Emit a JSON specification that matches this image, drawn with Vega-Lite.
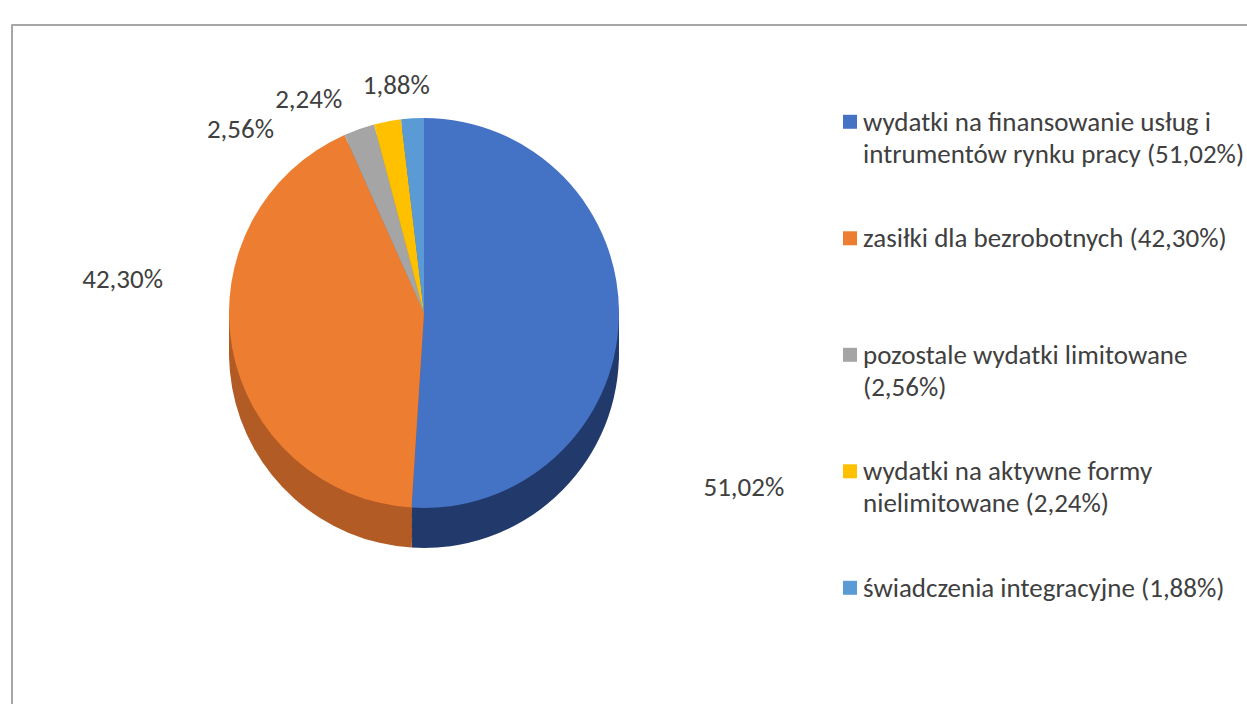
{
  "$schema": "https://vega.github.io/schema/vega-lite/v6.json",
  "padding": {"left": 10, "top": -5, "right": 0, "bottom": 0},
  "background": "white",
  "config": {"view": {"stroke": null}, "concat": {"spacing": 0}},
  "datasets": {
    "d": [
      {"k": 1, "cat": "wydatki na finansowanie usług i intrumentów rynku pracy", "value": 51.02, "pct": "51,02%", "legend": "wydatki na finansowanie usług i\nintrumentów rynku pracy (51,02%)"},
      {"k": 2, "cat": "zasiłki dla bezrobotnych", "value": 42.30, "pct": "42,30%", "legend": "zasiłki dla bezrobotnych (42,30%)"},
      {"k": 3, "cat": "pozostale wydatki limitowane", "value": 2.56, "pct": "2,56%", "legend": "pozostale wydatki limitowane\n(2,56%)"},
      {"k": 4, "cat": "wydatki na aktywne formy nielimitowane", "value": 2.24, "pct": "2,24%", "legend": "wydatki na aktywne formy\nnielimitowane (2,24%)"},
      {"k": 5, "cat": "świadczenia integracyjne", "value": 1.88, "pct": "1,88%", "legend": "świadczenia integracyjne (1,88%)"}
    ]
  },
  "spacing": 0,
  "bounds": "flush",
  "vconcat": [
    {
      "width": 1237, "height": 1,
      "view": {"stroke": "#A6A6A6", "strokeWidth": 1},
      "data": {"values": []},
      "mark": "text",
      "encoding": {}
    },
    {
      "spacing": 0,
      "bounds": "flush",
      "hconcat": [
        {
          "width": 1, "height": 680,
          "view": {"stroke": "#A6A6A6", "strokeWidth": 1},
          "data": {"values": []},
          "mark": "text",
          "encoding": {}
        },
        {
          "width": 824, "height": 576,
          "data": {"name": "d"},
          "encoding": {
            "theta": {"field": "value", "type": "quantitative", "stack": true},
            "order": {"field": "k", "type": "quantitative", "sort": "ascending"}
          },
          "layer": [
            {"mark": {"type": "arc", "outerRadius": 195, "yOffset": 40},
             "encoding": {"fill": {"field": "k", "type": "nominal", "legend": null, "scale": {"domain": [1, 2, 3, 4, 5], "range": ["#223A6B", "#B25B25", "#7C7C7C", "#BF9000", "#41719C"]}}}},
            {"mark": {"type": "arc", "outerRadius": 195, "yOffset": 30},
             "encoding": {"fill": {"field": "k", "type": "nominal", "legend": null}}},
            {"mark": {"type": "arc", "outerRadius": 195, "yOffset": 20},
             "encoding": {"fill": {"field": "k", "type": "nominal", "legend": null}}},
            {"mark": {"type": "arc", "outerRadius": 195, "yOffset": 10},
             "encoding": {"fill": {"field": "k", "type": "nominal", "legend": null}}},
            {"mark": {"type": "arc", "outerRadius": 195},
             "encoding": {"color": {"field": "k", "type": "nominal", "legend": null, "scale": {"domain": [1, 2, 3, 4, 5], "range": ["#4472C4", "#ED7D31", "#A5A5A5", "#FFC000", "#5B9BD5"]}}}},
            {"mark": {"type": "text", "radius": 230, "dx": 90, "dy": 168, "fontSize": 27, "font": "Carlito, Lato", "fill": "#404040", "align": "center", "baseline": "middle"},
             "encoding": {"text": {"field": "pct", "type": "nominal", "condition": {"test": "datum.k != 1", "value": ""}}}},
            {"mark": {"type": "text", "radius": 230, "dx": -75, "dy": -74, "fontSize": 27, "font": "Carlito, Lato", "fill": "#404040", "align": "center", "baseline": "middle"},
             "encoding": {"text": {"field": "pct", "type": "nominal", "condition": {"test": "datum.k != 2", "value": ""}}}},
            {"mark": {"type": "text", "radius": 215, "dx": -112, "dy": 20, "fontSize": 27, "font": "Carlito, Lato", "fill": "#404040", "align": "center", "baseline": "middle"},
             "encoding": {"text": {"field": "pct", "type": "nominal", "condition": {"test": "datum.k != 3", "value": ""}}}},
            {"mark": {"type": "text", "radius": 215, "dx": -75, "dy": -2, "fontSize": 27, "font": "Carlito, Lato", "fill": "#404040", "align": "center", "baseline": "middle"},
             "encoding": {"text": {"field": "pct", "type": "nominal", "condition": {"test": "datum.k != 4", "value": ""}}}},
            {"mark": {"type": "text", "radius": 215, "dx": -15, "dy": -12, "fontSize": 27, "font": "Carlito, Lato", "fill": "#404040", "align": "center", "baseline": "middle"},
             "encoding": {"text": {"field": "pct", "type": "nominal", "condition": {"test": "datum.k != 5", "value": ""}}}}
          ]
        },
        {
          "width": 28, "height": 576,
          "data": {"name": "d"},
          "encoding": {
            "y": {"field": "k", "type": "ordinal", "axis": null, "scale": {"type": "point", "padding": 0.472, "align": 0.88}}
          },
          "layer": [
            {"mark": {"type": "point", "shape": "square", "filled": true, "size": 196, "opacity": 1},
             "encoding": {"color": {"field": "k", "type": "nominal", "legend": null, "scale": {"domain": [1, 2, 3, 4, 5], "range": ["#4472C4", "#ED7D31", "#A5A5A5", "#FFC000", "#5B9BD5"]}}}},
            {"mark": {"type": "text", "align": "left", "baseline": "alphabetic", "dx": 13, "dy": 9, "lineBreak": "\n", "lineHeight": 32, "fontSize": 27, "font": "Carlito, Lato", "fill": "#404040"},
             "encoding": {"text": {"field": "legend", "type": "nominal"}}}
          ]
        }
      ]
    }
  ]
}
